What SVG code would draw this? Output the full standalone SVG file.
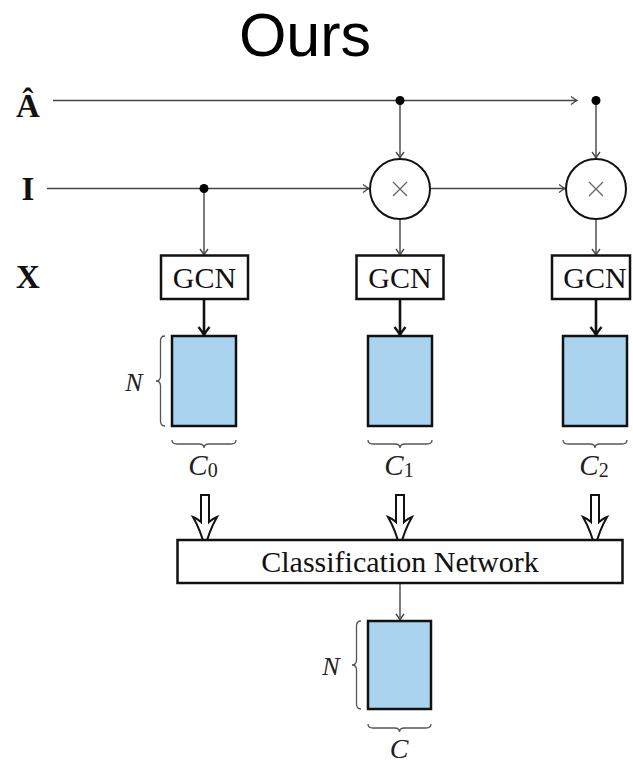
<svg xmlns="http://www.w3.org/2000/svg" width="633" height="765" viewBox="0 0 633 765">
<defs>
<marker id="ah" markerUnits="userSpaceOnUse" markerWidth="12" markerHeight="12" viewBox="-8 -6 10 12" refX="0" refY="0" orient="auto">
<path d="M-6,-4 Q-2,-1 0,0 Q-2,1 -6,4" fill="none" stroke="#444" stroke-width="1.3"/>
</marker>
<marker id="ahb" markerUnits="userSpaceOnUse" markerWidth="16" markerHeight="16" viewBox="-10 -8 12 16" refX="0" refY="0" orient="auto">
<path d="M-8,-5.5 Q-3,-1.5 0,0 Q-3,1.5 -8,5.5" fill="none" stroke="#111" stroke-width="2.4"/>
</marker>
</defs>
<style>
.thin{stroke:#444;stroke-width:1.4;fill:none}
.thick{stroke:#111;stroke-width:2.6;fill:none}
.box{fill:#fff;stroke:#111;stroke-width:2.5}
.blue{fill:#a9d3ef;stroke:#111;stroke-width:2.5}
.circ{fill:#fff;stroke:#111;stroke-width:2}
.dot{fill:#000}
.brace{fill:none;stroke:#555;stroke-width:1.3}
.dbl{fill:#fff;stroke:#111;stroke-width:2;stroke-linejoin:miter}
.lbl{font-family:"Liberation Serif","Times New Roman",serif;font-weight:bold;font-size:33px;text-anchor:middle;fill:#111}
.gcn{font-family:"Liberation Serif","Times New Roman",serif;font-size:30px;text-anchor:middle;fill:#111}
.it{font-family:"Liberation Serif","Times New Roman",serif;font-style:italic;fill:#222}
</style>
<rect width="633" height="765" fill="#fff"/>
<text x="305" y="56" font-family="Liberation Sans, Arial, sans-serif" font-size="61" text-anchor="middle" fill="#000">Ours</text>

<g id="labels">
<text class="lbl" x="28" y="117">Â</text>
<text class="lbl" x="28" y="200">I</text>
<text class="lbl" x="28" y="288">X</text>
</g>

<g id="connectors">
<line class="thin" x1="53" y1="100.5" x2="577" y2="100.5" marker-end="url(#ah)"/>
<line class="thin" x1="47" y1="188.5" x2="369" y2="188.5" marker-end="url(#ah)"/>
<line class="thin" x1="430" y1="188.5" x2="565" y2="188.5" marker-end="url(#ah)"/>
<line class="thin" x1="400" y1="100.5" x2="400" y2="158" marker-end="url(#ah)"/>
<line class="thin" x1="596" y1="100.5" x2="596" y2="158" marker-end="url(#ah)"/>
<line class="thin" x1="204" y1="188.5" x2="204" y2="255" marker-end="url(#ah)"/>
<line class="thin" x1="400" y1="219" x2="400" y2="255" marker-end="url(#ah)"/>
<line class="thin" x1="596" y1="219" x2="596" y2="255" marker-end="url(#ah)"/>
<line class="thick" x1="204" y1="299" x2="204" y2="335" marker-end="url(#ahb)"/>
<line class="thick" x1="400" y1="299" x2="400" y2="335" marker-end="url(#ahb)"/>
<line class="thick" x1="596" y1="299" x2="596" y2="335" marker-end="url(#ahb)"/>
<line class="thin" x1="400" y1="583" x2="400" y2="620" marker-end="url(#ah)"/>
<path class="dbl" d="M201,495 V522 Q198,519 193,517 Q201,531 205,548 Q209,531 217,517 Q212,519 209,522 V495 Z"/>
<path class="dbl" d="M396,495 V522 Q393,519 388,517 Q396,531 400,548 Q404,531 412,517 Q407,519 404,522 V495 Z"/>
<path class="dbl" d="M591,495 V522 Q588,519 583,517 Q591,531 595,548 Q599,531 607,517 Q602,519 599,522 V495 Z"/>
<circle class="dot" cx="204" cy="188.5" r="4.5"/>
<circle class="dot" cx="400" cy="100.5" r="4.5"/>
<circle class="dot" cx="596" cy="100.5" r="4.5"/>
</g>

<g id="mult1">
<circle class="circ" cx="400" cy="189" r="30"/>
<path d="M393,182 L407,196 M407,182 L393,196" stroke="#666" stroke-width="1.3"/>
</g>
<g id="mult2">
<circle class="circ" cx="596" cy="189" r="30"/>
<path d="M589,182 L603,196 M603,182 L589,196" stroke="#666" stroke-width="1.3"/>
</g>

<g id="gcn0">
<rect class="box" x="161" y="255.5" width="87" height="43.5"/>
<text class="gcn" x="204.5" y="287.5">GCN</text>
</g>
<g id="gcn1">
<rect class="box" x="356.5" y="255.5" width="87" height="43.5"/>
<text class="gcn" x="400" y="287.5">GCN</text>
</g>
<g id="gcn2">
<rect class="box" x="552" y="255.5" width="78" height="43.5"/>
<text class="gcn" x="595" y="287.5">GCN</text>
</g>

<g id="feat0">
<rect class="blue" x="172" y="336" width="64" height="90"/>
<path class="brace" d="M165,336 Q160.5,336 160.5,341 L160.5,376 Q160.5,381 156,381 Q160.5,381 160.5,386 L160.5,421 Q160.5,426 165,426"/>
<text class="it" x="134" y="391" font-size="26" text-anchor="middle">N</text>
<path class="brace" d="M172,440 Q172,444 177,444 L199,444 Q204,444 204,448 Q204,444 209,444 L231,444 Q236,444 236,440"/>
<text class="it" x="203" y="475" font-size="29" text-anchor="middle">C<tspan font-style="normal" font-size="20" dy="2">0</tspan></text>
</g>
<g id="feat1">
<rect class="blue" x="368" y="336" width="64" height="90"/>
<path class="brace" d="M368,440 Q368,444 373,444 L395,444 Q400,444 400,448 Q400,444 405,444 L427,444 Q432,444 432,440"/>
<text class="it" x="399" y="475" font-size="29" text-anchor="middle">C<tspan font-style="normal" font-size="20" dy="2">1</tspan></text>
</g>
<g id="feat2">
<rect class="blue" x="563" y="336" width="64" height="90"/>
<path class="brace" d="M563,440 Q563,444 568,444 L590,444 Q595,444 595,448 Q595,444 600,444 L622,444 Q627,444 627,440"/>
<text class="it" x="594" y="475" font-size="29" text-anchor="middle">C<tspan font-style="normal" font-size="20" dy="2">2</tspan></text>
</g>

<g id="classifier">
<rect class="box" x="177.5" y="540" width="445" height="43"/>
<text class="gcn" x="400" y="572">Classification Network</text>
</g>

<g id="output">
<rect class="blue" x="368" y="621" width="63" height="88"/>
<path class="brace" d="M361,621 Q356.5,621 356.5,626 L356.5,660 Q356.5,665 352,665 Q356.5,665 356.5,670 L356.5,704 Q356.5,709 361,709"/>
<text class="it" x="331" y="675" font-size="26" text-anchor="middle">N</text>
<path class="brace" d="M368,724 Q368,728 373,728 L394.5,728 Q399.5,728 399.5,732 Q399.5,728 404.5,728 L426,728 Q431,728 431,724"/>
<text class="it" x="399" y="758" font-size="28" text-anchor="middle">C</text>
</g>
</svg>
